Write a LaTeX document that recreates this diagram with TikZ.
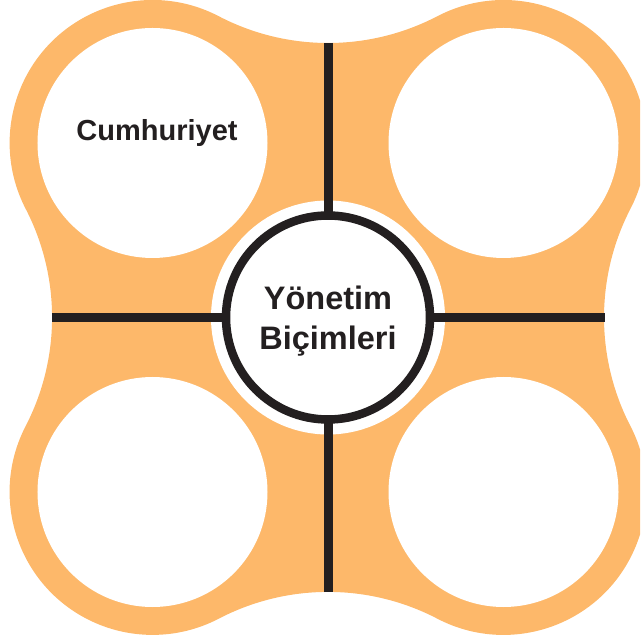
\documentclass[tikz,border=0pt]{standalone}
\usepackage{fontspec}
\usepackage{xcolor}
\usepackage{tikz}
\usetikzlibrary{positioning,calc}
\newfontfamily\formsSans{Liberation Sans}
\definecolor{formsOrange}{HTML}{FDB86A}
\definecolor{formsInk}{HTML}{231F20}
\tikzset{
  slot/.style={
    circle,
    fill=white,
    inner sep=0pt,
    minimum size=230pt
  },
  hubHalo/.style={
    circle,
    fill=white,
    inner sep=0pt,
    minimum size=234pt
  },
  hub/.style={
    circle,
    draw=formsInk,
    fill=white,
    line width=8.5pt,
    inner sep=0pt,
    minimum size=204pt
  },
  spoke/.style={
    draw=formsInk,
    line width=9pt
  },
  slotText/.style={
    text=formsInk,
    inner sep=0pt,
    font=\formsSans\bfseries\fontsize{29}{34}\selectfont
  },
  hubText/.style={
    text=formsInk,
    inner sep=0pt,
    align=center,
    font=\formsSans\bfseries\fontsize{32.5}{40}\selectfont
  }
}

\begin{document}
\begin{tikzpicture}[x=1pt,y=1pt]
  \useasboundingbox (-328,-326.5) rectangle (312,317.5);
  \clip (-328,-326.5) rectangle (312,317.5);
  % orange four-lobed blob
  \fill[formsOrange] (175.5,174.5) ++(-27.37:143pt)
    arc[start angle=-27.37, end angle=117.54, radius=143pt]
    arc[start angle=297.54, end angle=242.46, radius=236.5pt]
    arc[start angle=62.46, end angle=207.37, radius=143pt]
    arc[start angle=27.37, end angle=-27.37, radius=236.5pt]
    arc[start angle=152.63, end angle=297.54, radius=143pt]
    arc[start angle=117.54, end angle=62.46, radius=236.5pt]
    arc[start angle=242.46, end angle=387.37, radius=143pt]
    arc[start angle=207.37, end angle=152.63, radius=236.5pt]
    -- cycle;
  \node[slot] (slotNW) at (-175.5,174.5) {};
  \node[slot] (slotNE) at (175.5,174.5) {};
  \node[slot] (slotSW) at (-175.5,-174.5) {};
  \node[slot] (slotSE) at (175.5,-174.5) {};
  \node[slotText] (cumhuriyet) at ([xshift=4.5pt,yshift=10pt]slotNW.center) {Cumhuriyet};
  \node[hubHalo] (halo) at (0,0) {};
  \coordinate (edgeN) at (0,274.5);
  \coordinate (edgeS) at (0,-274.5);
  \coordinate (edgeW) at (-276,0);
  \coordinate (edgeE) at (276.5,0);
  \draw[spoke] (edgeN) -- (halo.center);
  \draw[spoke] (edgeS) -- (halo.center);
  \draw[spoke] (edgeW) -- (halo.center);
  \draw[spoke] (edgeE) -- (halo.center);
  \node[hub] (hub) at (0,0) {};
  \node[hubText] (hubLabel) at ([yshift=-4pt]hub.center) {Yönetim\\Biçimleri};
\end{tikzpicture}
\end{document}
